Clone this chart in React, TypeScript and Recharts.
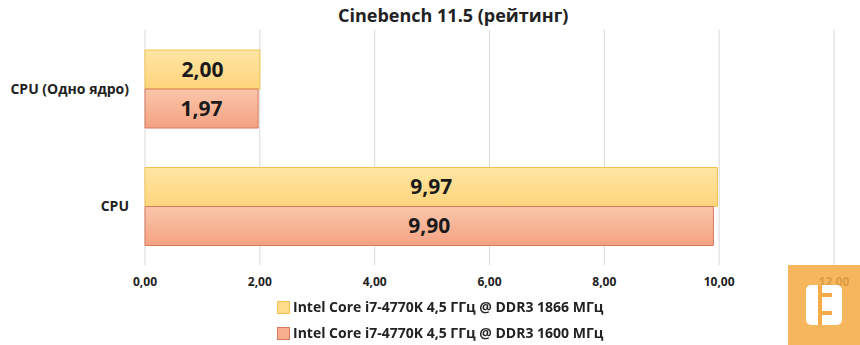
import { BarChart, Bar, XAxis, YAxis, CartesianGrid, LabelList } from 'recharts'

const categories = ['CPU (Одно ядро)', 'CPU']
const ddr1866 = [2.0, 9.97]
const ddr1600 = [1.97, 9.9]
const xTicks = [0, 2, 4, 6, 8, 10, 12]
const seriesNames = [
  'Intel Core i7-4770K 4,5 ГГц @ DDR3 1866 МГц',
  'Intel Core i7-4770K 4,5 ГГц @ DDR3 1600 МГц',
]

const data = categories.map((name, i) => ({ name, a: ddr1866[i], b: ddr1600[i] }))

const font = '"Open Sans", "DejaVu Sans", sans-serif'
const comma = (v: number) => Number(v).toFixed(2).replace('.', ',')

export default function App() {
  return (
    <div style={{ position: 'fixed', left: 0, top: 0, width: 860, height: 345, background: '#fff', fontFamily: font }}>
      <div style={{ position: 'absolute', top: 3, left: 338, fontSize: 18, fontWeight: 700, color: '#222', whiteSpace: 'nowrap' }}>
        Cinebench 11.5 (рейтинг)
      </div>
      <BarChart
        width={860}
        height={345}
        layout="vertical"
        data={data}
        margin={{ top: 30, right: 26, bottom: 0, left: 0 }}
        barGap={0}
        style={{ position: 'absolute', left: 0, top: 0 }}
      >
        <defs>
          <linearGradient id="gy" x1="0" y1="0" x2="0" y2="1">
            <stop offset="0%" stopColor="#FFE6A3" />
            <stop offset="100%" stopColor="#FFD47C" />
          </linearGradient>
          <linearGradient id="gr" x1="0" y1="0" x2="0" y2="1">
            <stop offset="0%" stopColor="#FAC6AA" />
            <stop offset="100%" stopColor="#F4A282" />
          </linearGradient>
        </defs>
        <CartesianGrid horizontal={false} stroke="#d9d9d9" />
        <XAxis
          type="number"
          domain={[0, 12]}
          ticks={xTicks}
          tickFormatter={comma}
          axisLine={false}
          tickLine={false}
          tickMargin={6}
          height={80}
          tick={{ fontSize: 12, fontWeight: 700, fill: '#222', fontFamily: font }}
        />
        <YAxis
          type="category"
          dataKey="name"
          width={145}
          axisLine={false}
          tickLine={false}
          tickMargin={10}
          tick={{ fontSize: 14, fontWeight: 700, fill: '#222', fontFamily: font }}
        />
        <Bar dataKey="a" barSize={39} fill="url(#gy)" stroke="#F2C44E" isAnimationActive={false}>
          <LabelList dataKey="a" position="center" formatter={comma} style={{ fontSize: 21, fontWeight: 700, fill: '#1a1a1a', fontFamily: font }} />
        </Bar>
        <Bar dataKey="b" barSize={39} fill="url(#gr)" stroke="#D77A5B" isAnimationActive={false}>
          <LabelList dataKey="b" position="center" formatter={comma} style={{ fontSize: 21, fontWeight: 700, fill: '#1a1a1a', fontFamily: font }} />
        </Bar>
      </BarChart>
      <div style={{ position: 'absolute', left: 277, top: 294, fontSize: 14, fontWeight: 700, color: '#222', lineHeight: '26px' }}>
        {seriesNames.map((n, i) => (
          <div key={n} style={{ display: 'flex', alignItems: 'center', whiteSpace: 'nowrap' }}>
            <span style={{
              display: 'inline-block', width: 11, height: 11, marginRight: 3,
              background: i === 0 ? '#FFDC8C' : '#F6AE8F',
              border: `1px solid ${i === 0 ? '#F2C44E' : '#D77A5B'}`,
            }} />
            {n}
          </div>
        ))}
      </div>
      <div style={{ position: 'absolute', left: 788, top: 265, width: 72, height: 80, background: 'rgba(245,172,72,0.88)' }}>
        <div style={{ position: 'absolute', left: 18, top: 20, width: 36, height: 40, background: '#fff', borderRadius: 5 }} />
        <div style={{ position: 'absolute', left: 30, top: 20, width: 4, height: 40, background: 'rgba(245,172,72,1)' }} />
        <div style={{ position: 'absolute', left: 34, top: 28, width: 10, height: 4, background: 'rgba(245,172,72,1)' }} />
        <div style={{ position: 'absolute', left: 34, top: 46, width: 10, height: 4, background: 'rgba(245,172,72,1)' }} />
      </div>
    </div>
  )
}
